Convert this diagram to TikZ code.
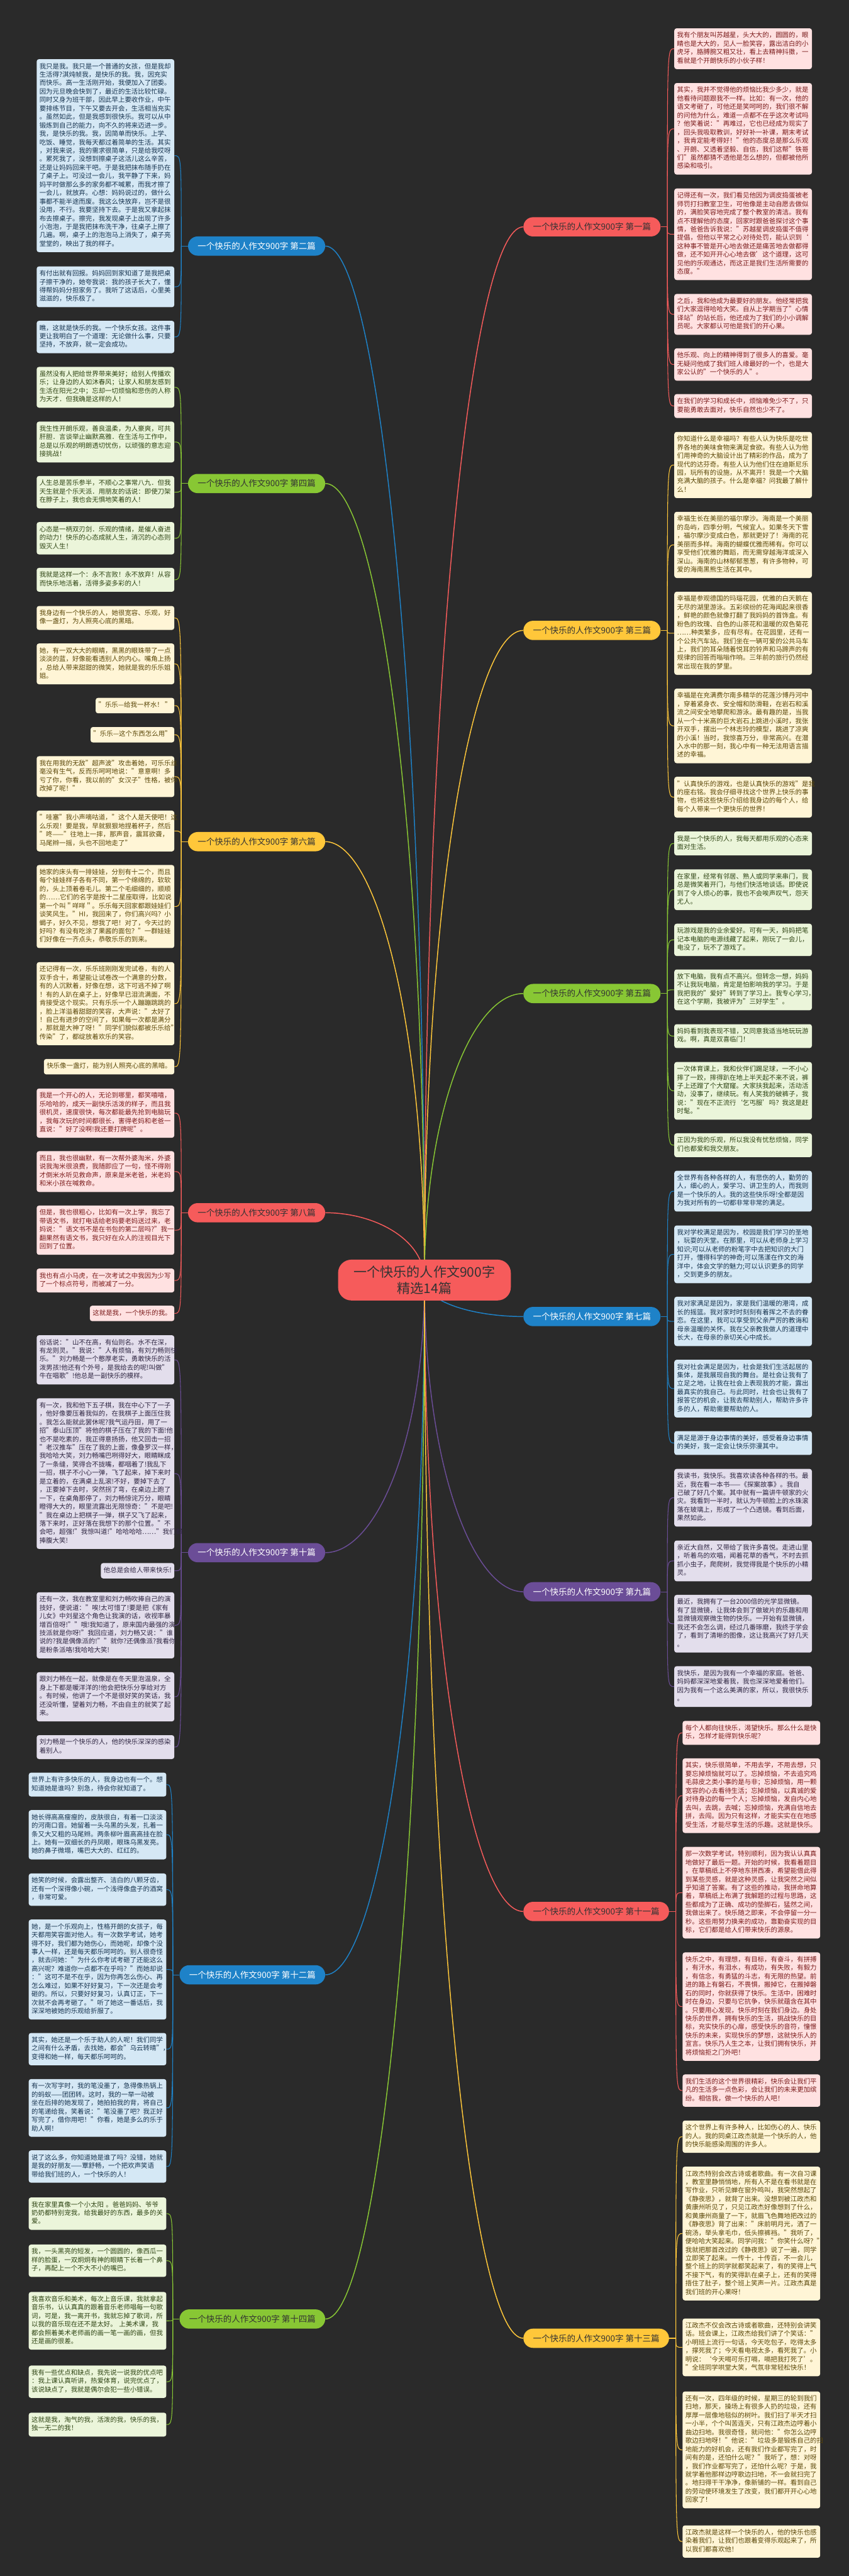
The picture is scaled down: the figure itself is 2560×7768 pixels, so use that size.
\documentclass[tikz,border=0pt]{standalone}
\usepackage{fontspec}
\setmainfont{Noto Sans CJK SC}
\usetikzlibrary{positioning,calc,backgrounds}
\definecolor{bgDark}{HTML}{2A2A2A}
\definecolor{mRed}{HTML}{F65B5B}
\definecolor{mYel}{HTML}{FFC73A}
\definecolor{mGrn}{HTML}{88C734}
\definecolor{mBlu}{HTML}{1E82C8}
\definecolor{mPur}{HTML}{6B4D97}
\definecolor{lRed}{HTML}{FFE1E1}
\definecolor{lYel}{HTML}{FFF5D6}
\definecolor{lGrn}{HTML}{EBF5DA}
\definecolor{lBlu}{HTML}{D5E8F5}
\definecolor{lPur}{HTML}{E3DEEC}
\definecolor{tRed}{HTML}{7B1C1C}
\definecolor{tYel}{HTML}{5A4708}
\definecolor{tGrn}{HTML}{2F4514}
\definecolor{tBlu}{HTML}{173450}
\definecolor{tPur}{HTML}{2F2642}
\definecolor{tDark}{HTML}{333333}
\tikzset{
  mainbox/.style={fill=mRed, text=tDark, rounded corners=20pt, align=center,
    minimum width=260.5pt, minimum height=61.5pt, font=\fontsize{20}{25}\selectfont},
  branch/.style={rounded corners=14.5pt, minimum height=29pt, inner xsep=14.5pt,
    font=\fontsize{12.8}{15}\selectfont},
  leaf/.style={rounded corners=3.5pt, inner xsep=4.25pt, inner ysep=5.25pt, align=left,
    font=\fontsize{9.9}{12.75}\selectfont,
    execute at begin node=\strut, execute at end node=\strut},
  wide/.style={leaf, text width=199pt},
  lred/.style={fill=lRed, text=tRed}, lyel/.style={fill=lYel, text=tYel},
  lgrn/.style={fill=lGrn, text=tGrn}, lblu/.style={fill=lBlu, text=tBlu},
  lpur/.style={fill=lPur, text=tPur},
  limb/.style={line width=1.4pt},
  twig/.style={line width=1pt}
}

\begin{document}
\begin{tikzpicture}[x=0.5pt,y=-0.5pt]
\useasboundingbox (0,0) rectangle (2560,7768);

\node[mainbox] (main) at (1280,3860) {一个快乐的人作文900字\\精选14篇};

% left branches
\node[branch, fill=mBlu, text=white, anchor=east] (p2) at (981,742) {一个快乐的人作文900字 第二篇};
\node[branch, fill=mGrn, text=tDark, anchor=east] (p4) at (981,1458) {一个快乐的人作文900字 第四篇};
\node[branch, fill=mYel, text=tDark, anchor=east] (p6) at (981,2538) {一个快乐的人作文900字 第六篇};
\node[branch, fill=mRed, text=tDark, anchor=east] (p8) at (981,3657) {一个快乐的人作文900字 第八篇};
\node[branch, fill=mPur, text=white, anchor=east] (p10) at (981,4682) {一个快乐的人作文900字 第十篇};
\node[branch, fill=mBlu, text=white, anchor=east] (p12) at (981,5955) {一个快乐的人作文900字 第十二篇};
\node[branch, fill=mGrn, text=tDark, anchor=east] (p14) at (981,6993) {一个快乐的人作文900字 第十四篇};

% right branches
\node[branch, fill=mRed, text=tDark, anchor=west] (p1) at (1578,684) {一个快乐的人作文900字 第一篇};
\node[branch, fill=mYel, text=tDark, anchor=west] (p3) at (1578,1901) {一个快乐的人作文900字 第三篇};
\node[branch, fill=mGrn, text=tDark, anchor=west] (p5) at (1578,2996) {一个快乐的人作文900字 第五篇};
\node[branch, fill=mBlu, text=white, anchor=west] (p7) at (1578,3970) {一个快乐的人作文900字 第七篇};
\node[branch, fill=mPur, text=white, anchor=west] (p9) at (1578,4800) {一个快乐的人作文900字 第九篇};
\node[branch, fill=mRed, text=tDark, anchor=west] (p11) at (1578,5764) {一个快乐的人作文900字 第十一篇};
\node[branch, fill=mYel, text=tDark, anchor=west] (p13) at (1578,7051) {一个快乐的人作文900字 第十三篇};

\foreach \b in {2,4,6,8,10,12,14}
  \coordinate (h\b) at ([xshift=-10pt]p\b.west);
\foreach \b in {1,3,5,7,9,11,13}
  \coordinate (h\b) at ([xshift=10pt]p\b.east);

% 第二篇
\node[wide, lblu, anchor=north east] (p2a) at (526,178) {我只是我。我只是一个普通的女孩，但是我却\\生活得?淇炖帧我，是快乐的我。我，因充实\\而快乐。高一生活刚开始，我便加入了团委。\\因为元旦晚会快到了，最近的生活比较忙碌。\\同时又身为班干部，因此早上要收作业，中午\\要排练节目，下午又要去开会，生活相当充实\\。虽然如此，但是我感到很快乐。我可以从中\\锻炼到自己的能力，向不久的将来迈进一步。\\我，是快乐的我。我，因简单而快乐。上学、\\吃饭、睡觉，我每天都过着简单的生活。其实\\，对我来说，我的需求很简单，只是给我哎呀\\。累死我了，没想到擦桌子这活儿这么辛苦，\\还是让妈妈回来干吧。于是我把抹布随手扔在\\了桌子上。可没过一会儿，我平静了下来，妈\\妈平时做那么多的家务都不喊累，而我才擦了\\一会儿，就放弃。心想：妈妈说过的，做什么\\事都不能半途而废。我这么快放弃，岂不是很\\没用，不行。我要坚持下去。于是我又拿起抹\\布去擦桌子。擦完，我发现桌子上出现了许多\\小泡泡，于是我把抹布洗干净，往桌子上擦了\\几遍。啊，桌子上的泡泡马上消失了，桌子亮\\堂堂的，映出了我的样子。};
\node[wide, lblu, anchor=north east] (p2b) at (526,803) {有付出就有回报。妈妈回到家知道了是我把桌\\子擦干净的，她夸我说：我的孩子长大了，懂\\得帮妈妈分担家务了。我听了这话后，心里美\\滋滋的，快乐极了。};
\node[wide, lblu, anchor=north east] (p2c) at (526,967) {瞧，这就是快乐的我。一个快乐女孩。这件事\\更让我明白了一个道理：无论做什么事，只要\\坚持，不放弃，就一定会成功。};

% 第四篇
\node[wide, lgrn, anchor=north east] (p4a) at (526,1106) {虽然没有人把给世界带来美好；给别人传播欢\\乐；让身边的人如沐春风；让家人和朋友感到\\生活在阳光之中；忘却一切烦恼和悲伤的人称\\为天才．但我确是这样的人！};
\node[wide, lgrn, anchor=north east] (p4b) at (526,1271) {我生性开朗乐观，善良温柔，为人豪爽，可共\\肝胆．言谈举止幽默高雅．在生活与工作中，\\总是以乐观的明朗透切忧伤，以顽强的意志迎\\接挑战！};
\node[wide, lgrn, anchor=north east] (p4c) at (526,1435) {人生总是苦乐参半，不顺心之事常八九．但我\\天生就是个乐天派．用朋友的话说：即使刀架\\在脖子上，我也会无惧地笑着的人！};
\node[wide, lgrn, anchor=north east] (p4d) at (526,1574) {心态是一柄双刃剑．乐观的情绪，是催人奋进\\的动力！快乐的心态成就人生，消沉的心态则\\毁灭人生！};
\node[wide, lgrn, anchor=north east] (p4e) at (526,1712) {我就是这样一个：永不言败！永不放弃！从容\\而快乐地活着，活得多姿多彩的人！};

% 第六篇
\node[wide, lyel, anchor=north east] (p6a) at (526,1827) {我身边有一个快乐的人，她很宽容、乐观，好\\像一盏灯，为人照亮心底的黑暗。};
\node[wide, lyel, anchor=north east] (p6b) at (526,1940) {她，有一双大大的眼睛，黑黑的眼珠带了一点\\淡淡的蓝，好像能看透别人的内心。嘴角上扬\\，总给人带来甜甜的微笑，她就是我的乐乐姐\\姐。};
\node[leaf, lyel, anchor=north east] (p6c) at (526,2104) {"乐乐—给我一杯水！ "};
\node[leaf, lyel, anchor=north east] (p6d) at (526,2192) {"乐乐—这个东西怎么用"};
\node[wide, lyel, anchor=north east] (p6e) at (526,2280) {我在用我的无敌"超声波"攻击着她，可乐乐丝\\毫没有生气，反而乐呵呵地说："意意啊！多\\亏了你，你看，我以前的"女汉子"性格，被你\\改掉了呢！"};
\node[wide, lyel, anchor=north east] (p6f) at (526,2444) {"哇塞"我小声嘀咕道，"这个人是天使吧！这\\么乐观！要是我，早就狠狠地捏着杯子，然后\\"咚——"往地上一摔，那声音，震耳欲聋，\\马尾辫一摇，头也不回地走了"};
\node[wide, lyel, anchor=north east] (p6g) at (526,2608) {她家的床头有一排娃娃，分别有十二个，而且\\每个娃娃样子各有不同，第一个绵绵的，软软\\的，头上顶着卷毛儿。第二个毛细细的，顺顺\\的……它们的名字是按十二星座取得，比如说\\第一个叫＂咩咩＂。乐乐每天回家都跟娃娃们\\谈笑风生。"HI，我回来了，你们高兴吗？小\\蝎子，好久不见，想我了吧！对了，今天过的\\好吗？有没有吃涂了果酱的面包？"一群娃娃\\们好像在一齐点头，恭敬乐乐的到来。};
\node[wide, lyel, anchor=north east] (p6h) at (526,2901) {还记得有一次，乐乐班刚刚发完试卷，有的人\\双手合十，希望能让试卷改一个满意的分数，\\有的人沉默着，好像在想，这下可逃不掉了啊\\！有的人趴在桌子上，好像早已泪流满面，不\\肯接受这个现实。只有乐乐一个人蹦蹦跳跳的\\，脸上洋溢着甜甜的笑容，大声说："太好了\\！自己有进步的空间了，如果每一次都是满分\\，那就是大神了呀！"同学们貌似都被乐乐给"\\传染"了，都绽放着欢乐的笑容。};
\node[leaf, lyel, anchor=north east] (p6i) at (526,3193) {快乐像一盏灯，能为别人照亮心底的黑暗。};

% 第八篇
\node[wide, lred, anchor=north east] (p8a) at (526,3282) {我是一个开心的人，无论到哪里，都笑嘻嘻，\\乐哈哈的，成天一副快乐活泼的样子，而且我\\很机灵，速度很快，每次都能最先抢到电脑玩\\，我每次玩的时间都很长，害得老妈和老爸一\\直说："好了没啊!我还要打牌呢"。};
\node[wide, lred, anchor=north east] (p8b) at (526,3471) {而且，我也很幽默，有一次帮外婆淘米，外婆\\说我淘米很浪费，我随即应了一句，怪不得刚\\才倒米水听见救命声，原来是米老爸，米老妈\\和米小孩在喊救命。};
\node[wide, lred, anchor=north east] (p8c) at (526,3635) {但是，我也很粗心，比如有一次上学，我忘了\\带语文书，就打电话给老妈要老妈送过来，老\\妈说："语文书不是在书包的第二层吗?"我一\\翻果然有语文书，我只好在众人的注视目光下\\回到了位置。};
\node[wide, lred, anchor=north east] (p8d) at (526,3825) {我也有点小马虎，在一次考试之中我因为少写\\了一个标点符号，而被减了一分。};
\node[leaf, lred, anchor=north east] (p8e) at (526,3937) {这就是我，一个快乐的我。};

% 第十篇
\node[wide, lpur, anchor=north east] (p10a) at (526,4026) {俗话说："山不在高，有仙则名。水不在深，\\有龙则灵。"我说："人有烦恼，有刘力畅则快\\乐。"刘力畅是一个憨厚老实，勇敢快乐的活\\泼男孩!他还有个外号，是我给去的呢!叫做"\\牛在唱歌"!他总是一副快乐的模样。};
\node[wide, lpur, anchor=north east] (p10b) at (526,4216) {有一次，我和他下五子棋，我在中心下了一子\\，他好像要压着我似的，在我棋子上面压住我\\。我怎么能就此罢休呢?我气运丹田，用了一\\招"泰山压顶"将他的棋子压在了我的下面!他\\也不是吃素的，我正得意扬扬，他又回击一招\\"老汉推车"压在了我的上面，像叠罗汉一样，\\我哈哈大笑，刘力畅嘴巴咧得好大，眼睛眯成\\了一条缝，笑得合不拢嘴，都咽着了!我乱下\\一招，棋子不小心一弹，飞了起来，掉下来时\\是立着的，在满桌上乱滚!不好，要掉下去了\\，正要掉下去时，突然拐了弯，在桌边上跑了\\一下，在桌角那停了，刘力畅惊诧万分，眼睛\\瞪得大大的，眼里流露出无限惊奇："不是吧!\\"我在桌边上把棋子一弹，棋子又飞了起来，\\落下来时，正好落在我想下的那个位置。"不\\会吧，超强!"我惊叫道!"哈哈哈哈……"我们都\\捧腹大笑!};
\node[leaf, lpur, anchor=north east] (p10c) at (526,4713) {他总是会给人带来快乐!};
\node[wide, lpur, anchor=north east] (p10d) at (526,4801) {还有一次，我在教室里和刘力畅吹捧自己的演\\技好，便说道："唉!太可惜了!要是把《家有\\儿女》中刘星这个角色让我演的话，收视率暴\\增百倍呀!""哦!我知道了，原来国内最强的演\\技派就是你呀!"我回应道，刘力畅又说："谁\\说的?我是偶像派的!""就你?还偶像派?我看你\\是粉条派咯!我哈哈大笑!};
\node[wide, lpur, anchor=north east] (p10e) at (526,5042) {跟刘力畅在一起，就像是在冬天里泡温泉，全\\身上下都是暖洋洋的!他会把快乐分享给对方\\。有时候，他讲了一个不是很好笑的笑话，我\\还没听懂，望着刘力畅，不由自主的就笑了起\\来。};
\node[wide, lpur, anchor=north east] (p10f) at (526,5232) {刘力畅是一个快乐的人，他的快乐深深的感染\\着别人。};

% 第十二篇
\node[wide, lblu, anchor=north east] (p12a) at (502,5345) {世界上有许多快乐的人，我身边也有一个。想\\知道她是谁吗？别急，待会你就知道了。};
\node[wide, lblu, anchor=north east] (p12b) at (502,5458) {她长得高高瘦瘦的，皮肤很白，有着一口淡淡\\的河南口音。她留着一头乌黑的头发，扎着一\\条又大又粗的马尾辫。两条柳叶眉高高挂在脸\\上。她有一双细长的丹凤眼，眼珠乌黑发亮。\\她的鼻子微塌，嘴巴大大的、红红的。};
\node[wide, lblu, anchor=north east] (p12c) at (502,5649) {她笑的时候，会露出整齐、洁白的八颗牙齿，\\还有一个深得像小碗，一个浅得像盘子的酒窝\\，非常可爱。};
\node[wide, lblu, anchor=north east] (p12d) at (502,5788) {她，是一个乐观向上，性格开朗的女孩子，每\\天都用笑容面对他人。有一次数学考试，她考\\得不好，我们都为她伤心，而她呢，却像个没\\事人一样，还是每天都乐呵呵的。别人很奇怪\\，就去问她："为什么你考试考砸了还能这么\\高兴呢？难道你一点都不在乎吗？"而她却说\\："这可不是不在乎，因为你再怎么伤心、再\\怎么难过，如果不好好复习，下一次还是会考\\砸的。所以，只要好好复习，认真订正，下一\\次就不会再考砸了。"听了她这一番话后，我\\深深地被她的乐观给折服了。};
\node[wide, lblu, anchor=north east] (p12e) at (502,6130) {其实，她还是一个乐于助人的人呢！我们同学\\之间有什么矛盾，去找她，都会"乌云转晴"，\\变得和她一样，每天都乐呵呵的。};
\node[wide, lblu, anchor=north east] (p12f) at (502,6269) {有一次写字时，我的笔没墨了，急得像热锅上\\的蚂蚁——团团转。这时，我的一举一动被\\坐在后排的她发现了，她拍拍我的背，将自己\\的笔递给我，笑着说："笔没墨了吧？我正好\\写完了，借你用吧！"你看，她是多么的乐于\\助人啊！};
\node[wide, lblu, anchor=north east] (p12g) at (502,6484) {说了这么多，你知道她是谁了吗？没错，她就\\是我的好朋友——覃舒畅，一个把欢声笑语\\带给我们班的人，一个快乐的人！};

% 第十四篇
\node[wide, lgrn, anchor=north east] (p14a) at (502,6626) {我在家里真像一个小太阳 。爸爸妈妈、爷爷\\奶奶都特别宠我，给我最好的东西，最多的关\\爱。};
\node[wide, lgrn, anchor=north east] (p14b) at (502,6768) {我，一头黑亮的短发，一个圆圆的，像西瓜一\\样的脸蛋，一双炯炯有神的眼睛下长着一个鼻\\子，再配上一个不大不小的嘴巴。};
\node[wide, lgrn, anchor=north east] (p14c) at (502,6911) {我喜欢音乐和美术，每次上音乐课，我就拿起\\音乐书，认认真真的跟着音乐老师唱每一句歌\\词，可是，我一离开书，我就忘掉了歌词，所\\以我的音乐现在还不是太好。 上美术课，我\\都会照着美术老师画的画一笔一画的画，但我\\还是画的很差。};
\node[wide, lgrn, anchor=north east] (p14d) at (502,7133) {我有一些优点和缺点，我先说一说我的优点吧\\：我上课认真听讲，热爱体育，说完优点了，\\该说缺点了，我就是偶尔会犯一些小错误。};
\node[wide, lgrn, anchor=north east] (p14e) at (502,7275) {这就是我，淘气的我，活泼的我，快乐的我，\\独一无二的我！};

% 第一篇
\node[wide, lred, anchor=north west] (p1a) at (2033,85) {我有个朋友叫苏越星，头大大的，圆圆的，眼\\睛也是大大的，见人一脸笑容，露出洁白的小\\虎牙，胳膊腕又粗又壮，看上去精神抖擞，一\\看就是个开朗快乐的小伙子样！};
\node[wide, lred, anchor=north west] (p1b) at (2033,250) {其实，我并不觉得他的烦恼比我少多少，就是\\他看待问题跟我不一样。比如：有一次，他的\\语文考砸了，可他还是笑呵呵的，我们很不解\\的问他为什么，难道一点都不在乎这次考试吗\\？他笑着说："再难过，它也已经成为现实了\\，回头我吸取教训，好好补一补课，期末考试\\，我肯定能考得好！"他的态度总是那么乐观\\、开朗、又透着坚毅、自信，我们这帮"铁哥\\们"虽然都猜不透他是怎么想的，但都被他所\\感染和吸引。};
\node[wide, lred, anchor=north west] (p1c) at (2033,568) {记得还有一次，我们看见他因为调皮捣蛋被老\\师罚打扫教室卫生，可他像是主动自愿去做似\\的，满脸笑容地完成了整个教室的清洁。我有\\点不理解他的态度，回家时跟爸爸探讨这个事\\情，爸爸告诉我说："苏越星调皮捣蛋不值得\\提倡，但他以平常之心对待处罚，能认识到‘\\这种事不管是开心地去做还是痛苦地去做都得\\做，还不如开开心心地去做’这个道理，这可\\见他的乐观通达，而这正是我们生活所需要的\\态度。"};
\node[wide, lred, anchor=north west] (p1d) at (2033,886) {之后，我和他成为最要好的朋友。他经常把我\\们大家逗得哈哈大笑。自从上学期当了"心情\\译站"的站长后，他还成为了我们的小小调解\\员呢。大家都认可他是我们的开心果。};
\node[wide, lred, anchor=north west] (p1e) at (2033,1050) {他乐观、向上的精神得到了很多人的喜爱。毫\\无疑问他成了我们班人缘最好的一个，也是大\\家公认的"一个快乐的人"。};
\node[wide, lred, anchor=north west] (p1f) at (2033,1188) {在我们的学习和成长中，烦恼难免少不了，只\\要能勇敢去面对，快乐自然也少不了。};

% 第三篇
\node[wide, lyel, anchor=north west] (p3a) at (2033,1302) {你知道什么是幸福吗？有些人认为快乐是吃世\\界各地的美味食物来满足食欲。有些人认为他\\们用神奇的大脑设计出了精彩的作品，成为了\\现代的达芬奇。有些人认为他们住在迪斯尼乐\\园，玩所有的设施，从不离开！我是一个大脑\\充满大脑的孩子。什么是幸福？问我最了解什\\么！};
\node[wide, lyel, anchor=north west] (p3b) at (2033,1543) {幸福生长在美丽的福尔摩沙。海南是一个美丽\\的岛屿，四季分明，气候宜人。如果冬天下雪\\，福尔摩沙变成白色，那就更好了！海南的花\\美丽而多样。海南的蝴蝶优雅而稀有。你可以\\享受他们优雅的舞蹈，而无需穿越海洋或深入\\深山。海南的山林郁郁葱葱，有许多物种，可\\爱的海南黑熊生活在其中。};
\node[wide, lyel, anchor=north west] (p3c) at (2033,1784) {幸福是参观德国的玛瑙花园，优雅的白天鹅在\\无尽的湖里游泳。五彩缤纷的花海闻起来很香\\，鲜艳的颜色就像打翻了我妈妈的首饰盒。有\\粉色的玫瑰、白色的山茶花和温暖的双色菊花\\……种类繁多，应有尽有。在花园里，还有一\\个公共汽车站。我们坐在一辆可爱的公共马车\\上，我们的耳朵随着悦耳的铃声和马蹄声的有\\规律的回答而嗡嗡作响。三年前的旅行仍然经\\常出现在我的梦里。};
\node[wide, lyel, anchor=north west] (p3d) at (2033,2076) {幸福是在充满费尔南多精华的花莲沙博丹河中\\，穿着紧身衣、安全帽和防滑鞋，在岩石和溪\\流之间安全地攀爬和游泳。最有趣的是，当我\\从一个十米高的巨大岩石上跳进小溪时，我张\\开双手，摆出一个林志玲的模型，跳进了凉爽\\的小溪！当时，我惊喜万分，非常高兴。在潜\\入水中的那一刻，我心中有一种无法用语言描\\述的幸福。};
\node[wide, lyel, anchor=north west] (p3e) at (2033,2342) {"认真快乐的游戏，也是认真快乐的游戏"是我\\的座右铭。我会仔细寻找这个世界上快乐的事\\物，也将这些快乐介绍给我身边的每个人，给\\每个人带来一个更快乐的世界！};

% 第五篇
\node[wide, lgrn, anchor=north west] (p5a) at (2033,2507) {我是一个快乐的人，我每天都用乐观的心态来\\面对生活。};
\node[wide, lgrn, anchor=north west] (p5b) at (2033,2621) {在家里，经常有邻居、熟人或同学来串门，我\\总是微笑着开门，与他们快活地谈话。即使说\\到了令人烦心的事，我也不会唉声叹气，怨天\\尤人。};
\node[wide, lgrn, anchor=north west] (p5c) at (2033,2785) {玩游戏是我的业余爱好。可有一天，妈妈把笔\\记本电脑的电源线藏了起来，刚玩了一会儿，\\电没了，玩不了游戏了。};
\node[wide, lgrn, anchor=north west] (p5d) at (2033,2923) {放下电脑，我有点不高兴。但转念一想，妈妈\\不让我玩电脑，肯定是怕影响我的学习。于是\\我把我的"爱好"转到了学习上。我专心学习，\\在这个学期，我被评为"三好学生"。};
\node[wide, lgrn, anchor=north west] (p5e) at (2033,3088) {妈妈看到我表现不错，又同意我适当地玩玩游\\戏。啊，真是双喜临门！};
\node[wide, lgrn, anchor=north west] (p5f) at (2033,3202) {一次体育课上，我和伙伴们踢足球，一不小心\\摔了一跤，摔得趴在地上半天起不来不说，裤\\子上还蹭了个大窟窿。大家扶我起来，活动活\\动，没事了，继续玩。有人笑我的破裤子，我\\说："现在不正流行‘乞丐服’吗？我这是赶\\时髦。"};
\node[wide, lgrn, anchor=north west] (p5g) at (2033,3417) {正因为我的乐观，所以我没有忧愁烦恼，同学\\们也都爱和我交朋友。};

% 第七篇
\node[wide, lblu, anchor=north west] (p7a) at (2033,3530) {全世界有各种各样的人，有悲伤的人，勤劳的\\人，细心的人，爱学习、讲卫生的人，而我则\\是一个快乐的人。我的这些快乐呀!全都是因\\为我对所有的一切都非常非常的满足。};
\node[wide, lblu, anchor=north west] (p7b) at (2033,3695) {我对学校满足是因为，校园是我们学习的圣地\\，玩耍的天堂。在那里，可以从老师身上学习\\知识;可以从老师的粉笔字中去把知识的大门\\打开，懂得科学的神奇;可以荡漾在作文的海\\洋中，体会文学的魅力;可以认识更多的同学\\，交到更多的朋友。};
\node[wide, lblu, anchor=north west] (p7c) at (2033,3910) {我对家满足是因为，家是我们温暖的港湾，成\\长的摇篮。我对家时时刻刻有着挥之不去的眷\\恋。在这里，我可以享受到父亲严厉的教诲和\\母亲温暖的关怀。我在父亲教我做人的道理中\\长大，在母亲的亲切关心中成长。};
\node[wide, lblu, anchor=north west] (p7d) at (2033,4100) {我对社会满足是因为，社会是我们生活起居的\\集体，是我展现自我的舞台。是社会让我有了\\立足之地，让我在社会上表现我的才能，露出\\最真实的我自己。与此同时，社会也让我有了\\报答它的机会，让我去帮助别人，帮助许多许\\多的人，帮助需要帮助的人。};
\node[wide, lblu, anchor=north west] (p7e) at (2033,4315) {满足是源于身边事情的美好，感受着身边事情\\的美好，我一定会让快乐弥漫其中。};

% 第九篇
\node[wide, lpur, anchor=north west] (p9a) at (2033,4429) {我读书，我快乐。我喜欢读各种各样的书。最\\近，我在看一本书——《探案故事》。我自\\己破了好几个案。其中就有一篇讲牛顿家的火\\灾。我看到一半时，就认为牛顿脸上的水珠滚\\落在玻璃上，形成了一个凸透镜。看到后面，\\果然如此。};
\node[wide, lpur, anchor=north west] (p9b) at (2033,4645) {亲近大自然，又带给了我许多喜悦。走进山里\\，听着鸟的欢唱，闻着花草的香气，不时去抓\\抓小虫子，爬爬树，我觉得我是个快乐的小精\\灵。};
\node[wide, lpur, anchor=north west] (p9c) at (2033,4809) {最近，我拥有了一台2000倍的光学显微镜。\\有了显微镜，让我体会到了做玻片的乐趣和用\\显微镜观察微生物的快乐。一开始有显微镜，\\我还不会怎么调，经过几番琢磨，我终于学会\\了，看到了清晰的图像，这让我高兴了好几天\\。};
\node[wide, lpur, anchor=north west] (p9d) at (2033,5024) {我快乐，是因为我有一个幸福的家庭。爸爸、\\妈妈都深深地爱着我，我也深深地爱着他们。\\因为我有一个这么美满的家，所以，我很快乐\\。};

% 第十一篇
\node[wide, lred, anchor=north west] (p11a) at (2058,5189) {每个人都向往快乐，渴望快乐。那么什么是快\\乐，怎样才能得到快乐呢？};
\node[wide, lred, anchor=north west] (p11b) at (2058,5302) {其实，快乐很简单，不用去学，不用去想，只\\要忘掉烦恼就可以了。忘掉烦恼，不去追究鸡\\毛蒜皮之类小事的是与非；忘掉烦恼，用一颗\\宽容的心去看待生活；忘掉烦恼，以真诚的爱\\对待身边的每一个人；忘掉烦恼，发自内心地\\去叫，去跳，去喊；忘掉烦恼，充满自信地去\\拼，去闯。因为只有这样，才能实实在在地感\\受生活，才能尽享生活的乐趣。这就是快乐。};
\node[wide, lred, anchor=north west] (p11c) at (2058,5569) {那一次数学考试，特别顺利，因为我认认真真\\地做好了最后一题。开始的时候，我看着题目\\，在草稿纸上不停地东拼西凑，希望能借此得\\到某些灵感，就是这种灵感，让我突然之间似\\乎知道了答案。有了这些的推动，我拼命地算\\着，草稿纸上布满了我解题的过程与思路，这\\些都成为了正确、成功的垫脚石，猛然之间，\\我做出来了。快乐随之即来，不会停留一分一\\秒。这些用努力换来的成功，靠勤奋实现的目\\标，它们都是给人们带来快乐的源泉。};
\node[wide, lred, anchor=north west] (p11d) at (2058,5887) {快乐之中，有理想，有目标，有奋斗，有拼搏\\，有汗水，有泪水，有成功，有失败，有毅力\\，有信念，有勇猛的斗志，有无限的热望。前\\进的路上有磐石，不畏惧，搬掉它，在搬掉磐\\石的同时，你就获得了快乐。生活中，困难时\\时在身边，只要与它抗争，快乐就蕴含在其中\\。只要用心发现，快乐时刻在我们身边。身处\\快乐的世界，拥有快乐的生活，挑战快乐的目\\标，充实快乐的心扉，感受快乐的音符，憧憬\\快乐的未来，实现快乐的梦想，这就快乐人的\\宣言。快乐乃人生之本，让我们拥有快乐，并\\将烦恼拒之门外吧！};
\node[wide, lred, anchor=north west] (p11e) at (2058,6255) {我们生活的这个世界很精彩，快乐会让我们平\\凡的生活多一点色彩，会让我们的未来更加缤\\纷。相信我，做一个快乐的人吧！};

% 第十三篇
\node[wide, lyel, anchor=north west] (p13a) at (2058,6394) {这个世界上有许多种人，比如伤心的人、快乐\\的人。我的同桌江政杰就是一个快乐的人，他\\的快乐能感染周围的许多人。};
\node[wide, lyel, anchor=north west] (p13b) at (2058,6533) {江政杰特别会改古诗或者歌曲。有一次自习课\\，教室里静悄悄地，所有人不是在看书就是在\\写作业，只听见蝉在窗外鸣叫，我突然想起了\\《静夜思》，就背了出来。没想到被江政杰和\\黄康州听见了，只见江政杰好像想到了什么，\\和黄康州商量了一下，就眉飞色舞地把改过的\\《静夜思》背了出来："床前明月光，洒了一\\碗汤，举头拿毛巾，低头擦裤裆。"我听了，\\便哈哈大笑起来。同学问我："你笑什么呀？"\\我就把那首改过的《静夜思》说了一遍，同学\\立即笑了起来。一传十，十传百，不一会儿，\\整个班上的同学就都笑起来了，有的笑得上气\\不接下气，有的笑得趴在桌子上，还有的笑得\\捂住了肚子，整个班上笑声一片。江政杰真是\\我们班的开心果呀！};
\node[wide, lyel, anchor=north west] (p13c) at (2058,6991) {江政杰不仅会改古诗或者歌曲，还特别会讲笑\\话。班会课上，江政杰给我们讲了个笑话："\\小明班上流行一句话，今天吃包子，吃得太多\\，撑死我了；今天看电视太多，看死我了。小\\明说：‘今天喝可乐打嗝，嗝把我打死了’。\\"全班同学哄堂大笑，气氛非常轻松快乐！};
\node[wide, lyel, anchor=north west] (p13d) at (2058,7211) {还有一次，四年级的时候，星期三的轮到我们\\扫地，那天，操场上有很多人扔的垃圾，还有\\厚厚一层像地毯似的树叶。我们扫了半天才扫\\一小半，个个叫苦连天，只有江政杰边哼着小\\曲边扫地。我很奇怪，就问他："你怎么边哼\\歌边扫地呀！"他说："垃圾多是锻炼自己的扫\\地能力的好机会，还有我们作业都写完了，时\\间有的是，还怕什么呢？"我听了，想：对呀\\，我们作业都写完了，还怕什么呢？于是，我\\就学着他那样边哼歌边扫地，不一会就扫完了\\。地扫得干干净净，像新铺的一样。看到自己\\的劳动使环境发生了改变，我们都开开心心地\\回家了！};
\node[wide, lyel, anchor=north west] (p13e) at (2058,7615) {江政杰就是这样一个快乐的人，他的快乐也感\\染着我们，让我们也跟着变得乐观起来了，所\\以我们都喜欢他！};

\begin{scope}[on background layer]
\fill[bgDark] (0,0) rectangle (2560,7768);
% center to branches
\draw[mBlu, limb] (p2.east) .. controls +(150,0) and +(0,-1871) .. (main.center);
\draw[mGrn, limb] (p4.east) .. controls +(150,0) and +(0,-1441) .. (main.center);
\draw[mYel, limb] (p6.east) .. controls +(150,0) and +(0,-793) .. (main.center);
\draw[mRed, limb] (p8.east) .. controls +(150,0) and +(0,-122) .. (main.center);
\draw[mPur, limb] (p10.east) .. controls +(150,0) and +(0,493) .. (main.center);
\draw[mBlu, limb] (p12.east) .. controls +(150,0) and +(0,1257) .. (main.center);
\draw[mGrn, limb] (p14.east) .. controls +(150,0) and +(0,1880) .. (main.center);
\draw[mRed, limb] (p1.west) .. controls +(-150,0) and +(0,-1906) .. (main.center);
\draw[mYel, limb] (p3.west) .. controls +(-150,0) and +(0,-1175) .. (main.center);
\draw[mGrn, limb] (p5.west) .. controls +(-150,0) and +(0,-518) .. (main.center);
\draw[mBlu, limb] (p7.west) .. controls +(-150,0) and +(0,66) .. (main.center);
\draw[mPur, limb] (p9.west) .. controls +(-150,0) and +(0,564) .. (main.center);
\draw[mRed, limb] (p11.west) .. controls +(-150,0) and +(0,1142) .. (main.center);
\draw[mYel, limb] (p13.west) .. controls +(-150,0) and +(0,1915) .. (main.center);

% branches to leaves
\draw[mBlu, twig] (p2.west) -- (h2);
\foreach \q in {a,b,c} \draw[mBlu, twig] (h2) .. controls (h2 |- p2\q.east) .. (p2\q.east);
\draw[mGrn, twig] (p4.west) -- (h4);
\foreach \q in {a,b,c,d,e} \draw[mGrn, twig] (h4) .. controls (h4 |- p4\q.east) .. (p4\q.east);
\draw[mYel, twig] (p6.west) -- (h6);
\foreach \q in {a,b,c,d,e,f,g,h,i} \draw[mYel, twig] (h6) .. controls (h6 |- p6\q.east) .. (p6\q.east);
\draw[mRed, twig] (p8.west) -- (h8);
\foreach \q in {a,b,c,d,e} \draw[mRed, twig] (h8) .. controls (h8 |- p8\q.east) .. (p8\q.east);
\draw[mPur, twig] (p10.west) -- (h10);
\foreach \q in {a,b,c,d,e,f} \draw[mPur, twig] (h10) .. controls (h10 |- p10\q.east) .. (p10\q.east);
\draw[mBlu, twig] (p12.west) -- (h12);
\foreach \q in {a,b,c,d,e,f,g} \draw[mBlu, twig] (h12) .. controls (h12 |- p12\q.east) .. (p12\q.east);
\draw[mGrn, twig] (p14.west) -- (h14);
\foreach \q in {a,b,c,d,e} \draw[mGrn, twig] (h14) .. controls (h14 |- p14\q.east) .. (p14\q.east);

\draw[mRed, twig] (p1.east) -- (h1);
\foreach \q in {a,b,c,d,e,f} \draw[mRed, twig] (h1) .. controls (h1 |- p1\q.west) .. (p1\q.west);
\draw[mYel, twig] (p3.east) -- (h3);
\foreach \q in {a,b,c,d,e} \draw[mYel, twig] (h3) .. controls (h3 |- p3\q.west) .. (p3\q.west);
\draw[mGrn, twig] (p5.east) -- (h5);
\foreach \q in {a,b,c,d,e,f,g} \draw[mGrn, twig] (h5) .. controls (h5 |- p5\q.west) .. (p5\q.west);
\draw[mBlu, twig] (p7.east) -- (h7);
\foreach \q in {a,b,c,d,e} \draw[mBlu, twig] (h7) .. controls (h7 |- p7\q.west) .. (p7\q.west);
\draw[mPur, twig] (p9.east) -- (h9);
\foreach \q in {a,b,c,d} \draw[mPur, twig] (h9) .. controls (h9 |- p9\q.west) .. (p9\q.west);
\draw[mRed, twig] (p11.east) -- (h11);
\foreach \q in {a,b,c,d,e} \draw[mRed, twig] (h11) .. controls (h11 |- p11\q.west) .. (p11\q.west);
\draw[mYel, twig] (p13.east) -- (h13);
\foreach \q in {a,b,c,d,e} \draw[mYel, twig] (h13) .. controls (h13 |- p13\q.west) .. (p13\q.west);
\end{scope}
\end{tikzpicture}
\end{document}
